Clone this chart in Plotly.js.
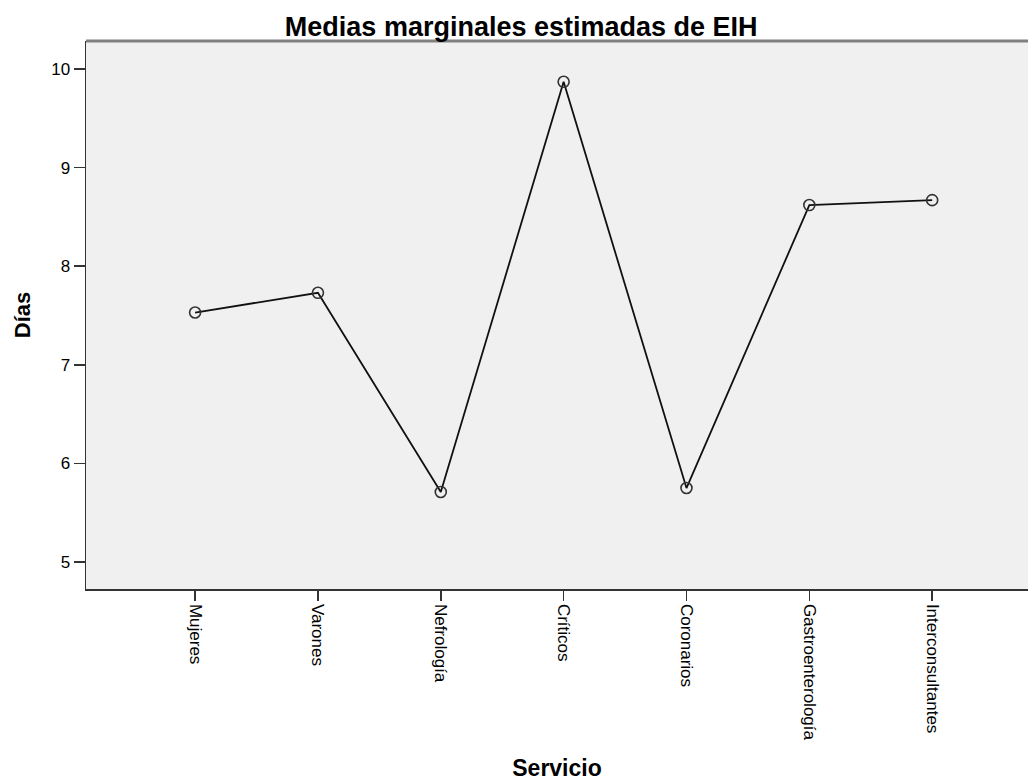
<!DOCTYPE html>
<html>
<head>
<meta charset="utf-8">
<script src="https://cdn.plot.ly/plotly-3.0.1.min.js"></script>
<style>html,body{margin:0;padding:0;background:#fff;}#chart{width:1028px;height:781px;}</style>
</head>
<body>
<div id="chart"></div>
<script>
const categories = ["Mujeres", "Varones", "Nefrología", "Críticos", "Coronarios", "Gastroenterología", "Interconsultantes"];
const medias = [7.53, 7.73, 5.71, 9.87, 5.75, 8.62, 8.67];
const yTicks = [5, 6, 7, 8, 9, 10];

const trace = {
  x: categories,
  y: medias,
  type: "scatter",
  mode: "lines+markers",
  line: {color: "#111", width: 1.8},
  marker: {symbol: "circle-open", size: 11, color: "#333", line: {width: 1.6, color: "#333"}},
  hoverinfo: "x+y",
  showlegend: false
};

const layout = {
  width: 1028,
  height: 781,
  margin: {l: 86, r: 0, t: 41, b: 192},
  paper_bgcolor: "#ffffff",
  plot_bgcolor: "#f0f0f0",
  font: {family: "Liberation Sans, Arial, sans-serif", color: "#000"},
  title: {
    text: "<b>Medias marginales estimadas de EIH</b>",
    font: {size: 27, family: "Liberation Sans, Arial, sans-serif", color: "#000"},
    x: 0.507, xanchor: "center", y: 0.966, yanchor: "middle"
  },
  xaxis: {
    type: "category",
    range: [-0.888, 6.78],
    showgrid: false,
    zeroline: false,
    showline: true,
    linecolor: "#333",
    linewidth: 1.5,
    ticks: "outside",
    ticklen: 10,
    tickwidth: 1.5,
    tickcolor: "#333",
    tickangle: 90,
    tickfont: {size: 17, color: "#000"},
    title: {text: "<b>Servicio</b>", font: {size: 23, color: "#000"}, standoff: 20}
  },
  yaxis: {
    range: [4.726, 10.284],
    tickvals: yTicks,
    showgrid: false,
    zeroline: false,
    showline: true,
    linecolor: "#333",
    linewidth: 1.5,
    ticks: "outside",
    ticklen: 11,
    tickwidth: 1.5,
    tickcolor: "#333",
    tickfont: {size: 17, color: "#000"},
    title: {text: "<b>Días</b>", font: {size: 22, color: "#000"}, standoff: 14}
  },
  shapes: [{
    type: "line", xref: "paper", yref: "paper",
    x0: 0, x1: 1, y0: 1, y1: 1,
    line: {color: "#808080", width: 3}
  }]
};

Plotly.newPlot("chart", [trace], layout, {displayModeBar: false, staticPlot: true});
</script>
</body>
</html>
